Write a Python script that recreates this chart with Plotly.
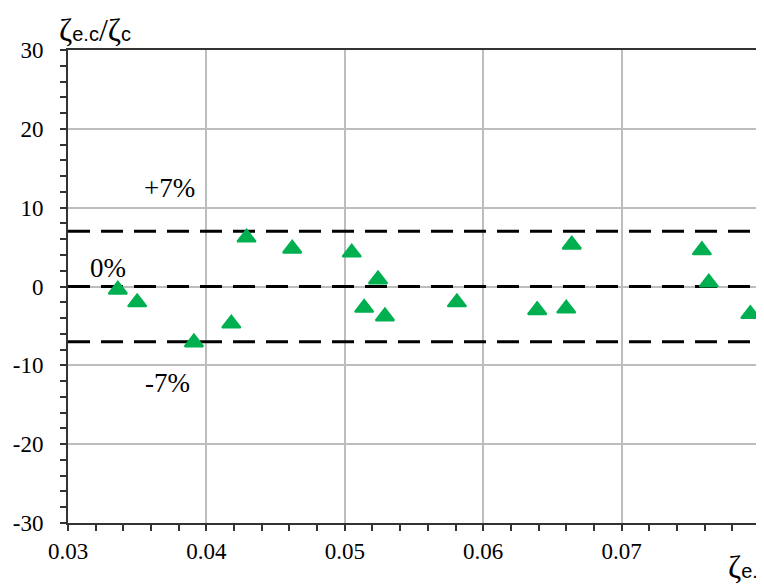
import plotly.graph_objects as go

zeta_ec = [0.0336, 0.0350, 0.0391, 0.0418, 0.0429, 0.0462, 0.0505, 0.0514, 0.0524,
           0.0529, 0.0581, 0.0639, 0.0660, 0.0664, 0.0758, 0.0763, 0.0793]
ratio_pct = [-0.4, -2.0, -7.1, -4.7, 6.2, 4.8, 4.3, -2.7, 0.9,
             -3.8, -2.0, -3.0, -2.8, 5.3, 4.6, 0.5, -3.5]
ref_levels = [7, 0, -7]
ref_labels = ["+7%", "0%", "-7%"]
ref_label_x = [0.0373, 0.0329, 0.0372]
ref_label_y = [12.5, 2.4, -12.2]
x_ticks = [0.03, 0.04, 0.05, 0.06, 0.07]
y_ticks = [-30, -20, -10, 0, 10, 20, 30]

SERIF = "Liberation Serif, Times New Roman, serif"
SANS = "Liberation Sans, Arial, sans-serif"

fig = go.Figure()
for lv in ref_levels:
    fig.add_trace(go.Scatter(x=[0.03, 0.08], y=[lv, lv], mode="lines",
                             line=dict(color="black", width=3, dash="22px,11px"),
                             hoverinfo="skip", showlegend=False))
fig.add_trace(go.Scatter(x=zeta_ec, y=ratio_pct, mode="markers",
                         marker=dict(symbol="triangle-up", size=16, color="#00B050",
                                     line=dict(color="#00B050", width=2)),
                         showlegend=False, cliponaxis=False))

for t, xx, yy in zip(ref_labels, ref_label_x, ref_label_y):
    fig.add_annotation(x=xx, y=yy, text=t, showarrow=False,
                       font=dict(family=SERIF, size=27, color="black"))

sub = lambda s: f"<span style='font-family:{SANS};font-size:20px'>{s}</span>"
fig.add_annotation(xref="paper", yref="paper", x=-0.016, y=1.0, xanchor="left", yanchor="bottom",
                   text="ζ" + sub("e.c") + "/ζ" + sub("c"), showarrow=False,
                   font=dict(family=SERIF, size=32, color="black"))
fig.add_annotation(xref="paper", yref="paper", x=0.951, y=-0.05, xanchor="left", yanchor="top",
                   text="ζ" + sub("e.c"), showarrow=False,
                   font=dict(family=SERIF, size=32, color="black"))

axis_common = dict(showline=True, linecolor="#333333", linewidth=2, mirror=True,
                   showgrid=True, gridcolor="#bdbdbd", gridwidth=1.5,
                   ticks="outside", ticklen=6, tickwidth=1.5, tickcolor="#333333",
                   zeroline=False)

fig.update_xaxes(range=[0.03, 0.08], tickvals=x_ticks, ticktext=[f"{v:.2f}" for v in x_ticks],
                 tickfont=dict(family=SERIF, size=23, color="black"), ticklabelstandoff=0,
                 minor=dict(dtick=0.002, ticks="outside", ticklen=6, tickcolor="#333333",
                            showgrid=False),
                 **axis_common)
fig.update_yaxes(range=[-30, 30], tickvals=y_ticks, ticktext=[str(v) for v in y_ticks],
                 tickfont=dict(family=SERIF, size=23, color="black"), ticklabelstandoff=12,
                 minor=dict(dtick=2, ticks="outside", ticklen=6, tickcolor="#333333",
                            showgrid=False),
                 **axis_common)

# page body has an 8px margin, so the figure is shifted by 8px
fig.update_layout(width=756, height=576, margin=dict(l=60, r=2, t=42, b=61),
                  plot_bgcolor="white", paper_bgcolor="white")
fig.write_html("out.html")
